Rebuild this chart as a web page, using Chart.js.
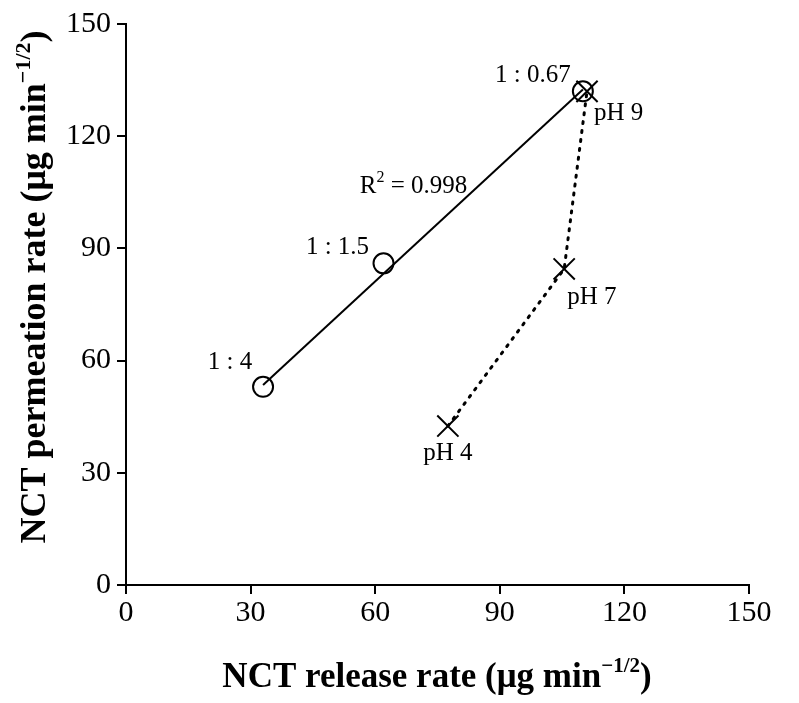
<!DOCTYPE html>
<html>
<head>
<meta charset="utf-8">
<script src="https://cdn.jsdelivr.net/npm/chart.js@4.4.1/dist/chart.umd.min.js"></script>
<style>
  html, body { margin: 0; padding: 0; background: #fff; }
  #wrap { width: 799px; height: 703px; position: relative; }
</style>
</head>
<body>
<div id="wrap"><canvas id="c" width="799" height="703"></canvas></div>
<script>
// ---- data ----
const ratioLabels = ['1 : 4', '1 : 1.5', '1 : 0.67'];
const ratioRelease = [33, 62, 110];
const ratioPermeation = [53, 86, 132];

const phLabels = ['pH 4', 'pH 7', 'pH 9'];
const phRelease = [77.5, 105.5, 111];
const phPermeation = [42.5, 84.5, 132];

const fitRelease = [33, 110];
const fitPermeation = [53.5, 132.5];
const fitLabel = '0.998';

const xTicks = [0, 30, 60, 90, 120, 150];
const yTicks = [0, 30, 60, 90, 120, 150];

const SERIF = '"Liberation Serif", "Times New Roman", serif';

function pts(xs, ys) { return xs.map((x, i) => ({ x: x, y: ys[i] })); }

// label offsets (pixels from the marker)
const ratioOffsets = [[-33, -24, 'center'], [-46, -16, 'center'], [-50, -16, 'center']];
const phOffsets = [[0, 27, 'center'], [3, 28, 'left'], [7, 22, 'left']];

function drawSup(ctx, parts, x, y, align) {
  let total = 0;
  parts.forEach(p => { ctx.font = p.font; p.w = ctx.measureText(p.t).width; total += p.w; });
  let cx = align === 'center' ? x - total / 2 : x;
  parts.forEach(p => {
    ctx.font = p.font;
    ctx.textAlign = 'left';
    ctx.fillText(p.t, cx, y + (p.dy || 0));
    cx += p.w;
  });
}

const annotate = {
  id: 'annotate',
  afterDatasetsDraw(chart) {
    const ctx = chart.ctx;
    const xs = chart.scales.x, ys = chart.scales.y;
    ctx.save();
    ctx.fillStyle = '#000';
    ctx.textBaseline = 'middle';
    ctx.font = '25px ' + SERIF;
    ratioLabels.forEach((t, i) => {
      const px = xs.getPixelForValue(ratioRelease[i]);
      const py = ys.getPixelForValue(ratioPermeation[i]);
      const o = ratioOffsets[i];
      ctx.textAlign = o[2];
      ctx.fillText(t, px + o[0], py + o[1]);
    });
    phLabels.forEach((t, i) => {
      const px = xs.getPixelForValue(phRelease[i]);
      const py = ys.getPixelForValue(phPermeation[i]);
      const o = phOffsets[i];
      ctx.textAlign = o[2];
      ctx.fillText(t, px + o[0], py + o[1]);
    });
    // R^2 label
    const rx = xs.getPixelForValue(ratioRelease[1]) + 30;
    const ry = ys.getPixelForValue(ratioPermeation[1]) - 77;
    drawSup(ctx, [
      { t: 'R', font: '25px ' + SERIF },
      { t: '2', font: '16px ' + SERIF, dy: -9 },
      { t: ' = ' + fitLabel, font: '25px ' + SERIF }
    ], rx, ry, 'center');

    // axis titles
    ctx.textBaseline = 'alphabetic';
    drawSup(ctx, [
      { t: 'NCT release rate (\u03bcg min', font: 'bold 35px ' + SERIF },
      { t: '\u22121/2', font: 'bold 21px ' + SERIF, dy: -15 },
      { t: ')', font: 'bold 35px ' + SERIF }
    ], 437, 687, 'center');

    ctx.translate(45, 287);
    ctx.rotate(-Math.PI / 2);
    drawSup(ctx, [
      { t: 'NCT permeation rate (\u03bcg min', font: 'bold 36px ' + SERIF },
      { t: '\u22121/2', font: 'bold 22px ' + SERIF, dy: -15 },
      { t: ')', font: 'bold 36px ' + SERIF }
    ], 0, 0, 'center');
    ctx.restore();
  }
};

const tickFont = { family: SERIF, size: 30 };

new Chart(document.getElementById('c'), {
  type: 'scatter',
  data: {
    datasets: [
      {
        label: 'ratios',
        data: pts(ratioRelease, ratioPermeation),
        showLine: false,
        pointStyle: 'circle',
        pointRadius: 10,
        pointBackgroundColor: 'rgba(255,255,255,0)',
        pointBorderColor: '#000',
        pointBorderWidth: 2,
        order: 0
      },
      {
        label: 'fit',
        data: pts(fitRelease, fitPermeation),
        showLine: true,
        borderColor: '#000',
        borderWidth: 2,
        pointRadius: 0,
        order: 1
      },
      {
        label: 'pH',
        data: pts(phRelease, phPermeation),
        showLine: true,
        borderColor: '#000',
        borderWidth: 3,
        borderDash: [2, 7],
        borderCapStyle: 'round',
        pointStyle: 'crossRot',
        pointRadius: 15,
        pointBorderColor: '#000',
        pointBorderWidth: 2,
        order: 2
      }
    ]
  },
  options: {
    responsive: false,
    animation: false,
    devicePixelRatio: 1,
    layout: { padding: { top: 22, right: 50, left: 0, bottom: 0 } },
    plugins: { legend: { display: false }, tooltip: { enabled: false } },
    scales: {
      x: {
        type: 'linear', min: 0, max: 150,
        afterBuildTicks(s) { s.ticks = xTicks.map(v => ({ value: v })); },
        afterFit(s) { s.height = 118; },
        border: { display: true, color: '#000', width: 2 },
        grid: { display: true, drawOnChartArea: false, drawTicks: true, tickLength: 9, color: '#000', lineWidth: 2 },
        ticks: { color: '#000', font: tickFont, padding: 1, maxRotation: 0 }
      },
      y: {
        type: 'linear', min: 0, max: 150,
        afterBuildTicks(s) { s.ticks = yTicks.map(v => ({ value: v })); },
        afterFit(s) { s.width = 126; },
        border: { display: true, color: '#000', width: 2 },
        grid: { display: true, drawOnChartArea: false, drawTicks: true, tickLength: 9, color: '#000', lineWidth: 2 },
        ticks: { color: '#000', font: tickFont, padding: 6 }
      }
    }
  },
  plugins: [annotate]
});
</script>
</body>
</html>
